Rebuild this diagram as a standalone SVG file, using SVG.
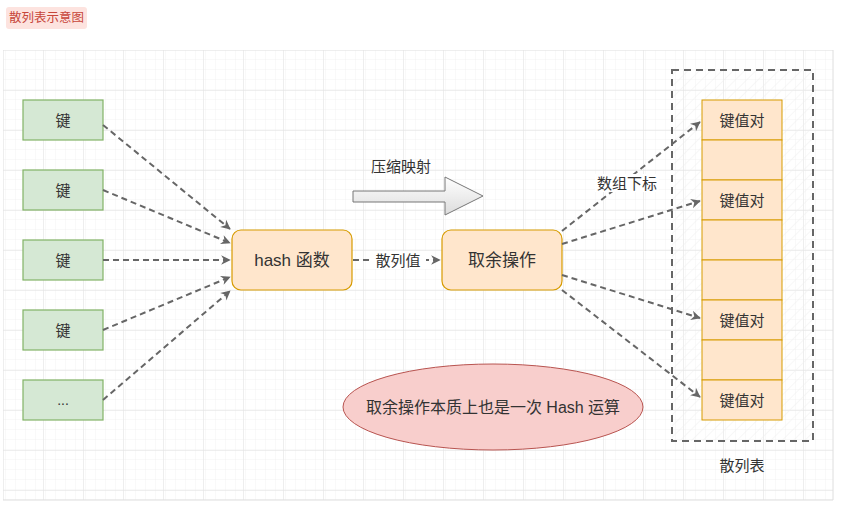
<svg xmlns="http://www.w3.org/2000/svg" width="847" height="505" viewBox="0 0 847 505">
<style>
text{font-family:"Liberation Sans","Noto Sans CJK SC",sans-serif;fill:#333;text-anchor:middle;dominant-baseline:central}
.key{fill:#d5e8d4;stroke:#82b366;stroke-width:1.2}
.org{fill:#ffe6cc;stroke:#d79b00;stroke-width:1.2}
.cell{fill:#ffe6cc;stroke:#d79b00;stroke-width:1}
.edge{fill:none;stroke:#666;stroke-width:2;stroke-dasharray:6 4}
.lbl{fill:#fff}
</style>
<defs>
<pattern id="minor" width="10" height="10" patternUnits="userSpaceOnUse" x="3" y="50">
<path d="M10 0V10M0 10H10" fill="none" stroke="#f2f2f2" stroke-width="1"/>
</pattern>
<pattern id="major" width="40" height="40" patternUnits="userSpaceOnUse" x="3" y="50">
<rect width="40" height="40" fill="url(#minor)"/>
<path d="M0 0V40M0 0H40" fill="none" stroke="#dedede" stroke-width="1"/>
</pattern>
<pattern id="hatch" width="8" height="8" patternUnits="userSpaceOnUse" patternTransform="rotate(45)">
<path d="M0 0V8" stroke="#f0f0f0" stroke-width="1"/>
</pattern>
<linearGradient id="ag" x1="0" y1="0" x2="0" y2="1">
<stop offset="0" stop-color="#ffffff"/>
<stop offset="1" stop-color="#dcdcdc"/>
</linearGradient>
<marker id="ah" viewBox="0 0 10 10" refX="9" refY="5" markerWidth="6" markerHeight="6" markerUnits="userSpaceOnUse" orient="auto" overflow="visible">
<path d="M0 0L10 5L0 10L3 5Z" fill="#666" transform="scale(1.6) translate(-3.6 -1.9)"/>
</marker>
</defs>

<rect x="3" y="50" width="830" height="450" fill="url(#major)"/>
<path d="M833 50V500M3 500H833" stroke="#dedede" fill="none"/>

<g id="title">
<rect x="6" y="7" width="81" height="22" rx="3" fill="#fde3df"/>
<text x="46.5" y="18" style="font-size:12.5px;fill:#c7453a">散列表示意图</text>
</g>

<g id="table-container">
<rect x="672" y="70" width="141" height="371" fill="url(#hatch)" stroke="#666" stroke-width="2" stroke-dasharray="7 5"/>
<text x="742" y="465" style="font-size:15px">散列表</text>
</g>

<g id="keys">
<g id="key1"><rect class="key" x="23" y="100" width="80" height="40"/><text x="63" y="120" style="font-size:15px">键</text></g>
<g id="key2"><rect class="key" x="23" y="170" width="80" height="40"/><text x="63" y="190" style="font-size:15px">键</text></g>
<g id="key3"><rect class="key" x="23" y="240" width="80" height="40"/><text x="63" y="260" style="font-size:15px">键</text></g>
<g id="key4"><rect class="key" x="23" y="310" width="80" height="40"/><text x="63" y="330" style="font-size:15px">键</text></g>
<g id="key5"><rect class="key" x="23" y="380" width="80" height="40"/><text x="63" y="400" style="font-size:14px">...</text></g>
</g>

<g id="hash">
<rect class="org" x="232" y="230" width="120" height="60" rx="9"/>
<text x="292" y="260" style="font-size:17px">hash 函数</text>
</g>

<g id="mod">
<rect class="org" x="442" y="230" width="120" height="60" rx="9"/>
<text x="502" y="260" style="font-size:17px">取余操作</text>
</g>

<g id="big-arrow">
<polygon points="353,191 445,191 445,177 483,196 445,215 445,202 353,202" fill="url(#ag)" stroke="#777" stroke-width="1"/>
<text x="401" y="166" style="font-size:15px">压缩映射</text>
</g>

<g id="hash-table">
<rect class="cell" x="702" y="100" width="80" height="40"/>
<rect class="cell" x="702" y="140" width="80" height="40"/>
<rect class="cell" x="702" y="180" width="80" height="40"/>
<rect class="cell" x="702" y="220" width="80" height="40"/>
<rect class="cell" x="702" y="260" width="80" height="40"/>
<rect class="cell" x="702" y="300" width="80" height="40"/>
<rect class="cell" x="702" y="340" width="80" height="40"/>
<rect class="cell" x="702" y="380" width="80" height="40"/>
<text x="742" y="120" style="font-size:15px">键值对</text>
<text x="742" y="200" style="font-size:15px">键值对</text>
<text x="742" y="320" style="font-size:15px">键值对</text>
<text x="742" y="400" style="font-size:15px">键值对</text>
</g>

<g id="note">
<ellipse cx="493" cy="407" rx="150" ry="43" fill="#f8cecc" stroke="#b85450" stroke-width="1"/>
<text x="493" y="407" style="font-size:16px">取余操作本质上也是一次 Hash 运算</text>
</g>

<g id="connectors">
<path class="edge" d="M103 125L230 229" marker-end="url(#ah)"/>
<path class="edge" d="M103 190L230 243" marker-end="url(#ah)"/>
<path class="edge" d="M103 260L230 260" marker-end="url(#ah)"/>
<path class="edge" d="M103 330L230 277" marker-end="url(#ah)"/>
<path class="edge" d="M103 400L230 291" marker-end="url(#ah)"/>
<path class="edge" d="M353 260L440 260" marker-end="url(#ah)"/>
<path class="edge" d="M562 231L700 122" marker-end="url(#ah)"/>
<path class="edge" d="M562 244L700 201" marker-end="url(#ah)"/>
<path class="edge" d="M562 275L700 318" marker-end="url(#ah)"/>
<path class="edge" d="M562 290L700 397" marker-end="url(#ah)"/>
<rect class="lbl" x="370" y="251" width="56" height="18"/>
<text x="398" y="260" style="font-size:15px">散列值</text>
<rect class="lbl" x="595" y="174" width="64" height="18"/>
<text x="627" y="183" style="font-size:15px">数组下标</text>
</g>
</svg>
